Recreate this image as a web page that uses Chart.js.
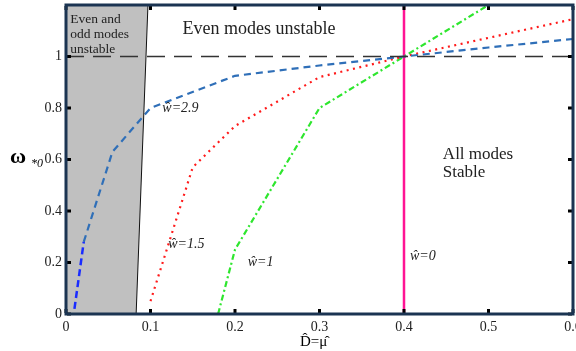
<!DOCTYPE html>
<html>
<head>
<meta charset="utf-8">
<script src="https://cdn.jsdelivr.net/npm/chart.js@4/dist/chart.umd.min.js"></script>
<style>
  html, body { margin: 0; padding: 0; background: #fff; }
  #wrap { width: 576px; height: 351px; }
</style>
</head>
<body>
<div id="wrap"><canvas id="chart"></canvas></div>
<script>
// w = 2.9 (blue dashed), first piece drawn brighter blue
const blueLowX = [0.01, 0.021];
const blueLowY = [0.02, 0.28];
const blueX = [0.021, 0.055, 0.1, 0.2, 0.3, 0.4, 0.5, 0.6];
const blueY = [0.28, 0.63, 0.8, 0.925, 0.965, 1.0, 1.035, 1.068];
// w = 1.5 (red dotted)
const redX = [0.1, 0.15, 0.2, 0.3, 0.4, 0.6];
const redY = [0.05, 0.57, 0.73, 0.92, 1.0, 1.145];
// w = 1 (green dash-dot)
const greenX = [0.18, 0.2, 0.3, 0.4, 0.5];
const greenY = [0.0, 0.25, 0.8, 1.0, 1.2];
// w = 0 (vertical line)
const pinkX = [0.4, 0.4];
const pinkY = [0, 1.2];
// reference level omega = 1
const refX = [0, 0.6];
const refY = [1, 1];
// shaded region (even and odd modes unstable): left edge x=0, right edge below
const edgeX = [0.083, 0.097];
const edgeY = [0, 1.2];

const xTicks = [0, 0.1, 0.2, 0.3, 0.4, 0.5, 0.6];
const yTicks = [0, 0.2, 0.4, 0.6, 0.8, 1];

const pts = (xs, ys) => xs.map((x, i) => ({ x: x, y: ys[i] }));
const SERIF = '"Liberation Serif", "DejaVu Serif", serif';

const shade = {
    id: "shade",
    beforeDatasetsDraw(chart) {
        const ctx = chart.ctx;
        const xs = chart.scales.x, ys = chart.scales.y;
        ctx.save();
        ctx.fillStyle = "#c0c0c0";
        ctx.beginPath();
        ctx.moveTo(xs.getPixelForValue(0), ys.getPixelForValue(edgeY[0]));
        edgeX.forEach((x, i) => ctx.lineTo(xs.getPixelForValue(x), ys.getPixelForValue(edgeY[i])));
        ctx.lineTo(xs.getPixelForValue(0), ys.getPixelForValue(edgeY[edgeY.length - 1]));
        ctx.closePath();
        ctx.fill();
        ctx.restore();
    }
};

const notes = {
    id: "notes",
    afterDraw(chart) {
        const ctx = chart.ctx;
        const xs = chart.scales.x, ys = chart.scales.y;
        const a = chart.chartArea;
        const px = v => xs.getPixelForValue(v);
        const py = v => ys.getPixelForValue(v);

        // tick marks (inside, all four sides)
        ctx.save();
        ctx.fillStyle = "#000";
        xTicks.forEach(t => {
            ctx.fillRect(px(t) - 1.5, a.bottom - 5, 3, 4);
            ctx.fillRect(px(t) - 1.5, a.top + 1, 3, 4);
        });
        yTicks.forEach(t => {
            ctx.fillRect(a.left + 1, py(t) - 1.5, 4, 3);
            ctx.fillRect(a.right - 5, py(t) - 1.5, 4, 3);
        });

        // frame
        ctx.strokeStyle = "#1b3452";
        ctx.lineWidth = 3;
        ctx.strokeRect(a.left, a.top, a.right - a.left, a.bottom - a.top);

        // text
        ctx.fillStyle = "#222";
        ctx.textBaseline = "alphabetic";
        ctx.textAlign = "left";
        ctx.font = "13.5px " + SERIF;
        ctx.fillText("Even and", px(0.005), py(1.13));
        ctx.fillText("odd modes", px(0.005), py(1.072));
        ctx.fillText("unstable", px(0.005), py(1.014));

        ctx.font = "18px " + SERIF;
        ctx.fillText("Even modes unstable", px(0.138), py(1.086));
        ctx.font = "17px " + SERIF;
        ctx.fillText("All modes", px(0.446), py(0.603));
        ctx.fillText("Stable", px(0.446), py(0.533));

        ctx.font = "italic 14px " + SERIF;
        ctx.fillText("\u0175=2.9", px(0.114), py(0.786));
        ctx.fillText("\u0175=1.5", px(0.121), py(0.257));
        ctx.fillText("\u0175=1", px(0.215), py(0.187));
        ctx.fillText("\u0175=0", px(0.407), py(0.21));

        // axis titles
        ctx.fillStyle = "#000";
        ctx.font = "bold 22px " + SERIF;
        ctx.fillText("\u03c9", 10, 163);
        ctx.font = "italic 12px " + SERIF;
        ctx.fillText("*0", 31, 167);
        ctx.font = "15px " + SERIF;
        ctx.textAlign = "center";
        ctx.fillText("D\u0302=\u03bc\u0302", px(0.293), 346);
        ctx.restore();
    }
};

const fmt = v => String(+Number(v).toFixed(1));

new Chart(document.getElementById("chart"), {
    type: "scatter",
    data: {
        datasets: [
            {
                data: pts(edgeX, edgeY), showLine: true, borderColor: "#111",
                borderWidth: 1, pointRadius: 0,
            },
            {
                data: pts(refX, refY), showLine: true, borderColor: "#333",
                borderWidth: 1.3, borderDash: [18, 9], pointRadius: 0,
            },
            {
                data: pts(blueLowX, blueLowY), showLine: true, borderColor: "#1a2cff",
                borderWidth: 2.5, borderDash: [7, 4], pointRadius: 0,
            },
            {
                data: pts(blueX, blueY), showLine: true, borderColor: "#2f6fb8",
                borderWidth: 2.2, borderDash: [7, 5], pointRadius: 0,
            },
            {
                data: pts(redX, redY), showLine: true, borderColor: "#ff1a1a",
                borderWidth: 2.2, borderDash: [2, 4.5], pointRadius: 0,
            },
            {
                data: pts(greenX, greenY), showLine: true, borderColor: "#2ee62e",
                borderWidth: 2.2, borderDash: [6, 3, 2, 3], pointRadius: 0,
            },
            {
                data: pts(pinkX, pinkY), showLine: true, borderColor: "#ff1493",
                borderWidth: 2.5, pointRadius: 0,
            },
        ],
    },
    options: {
        responsive: true,
        maintainAspectRatio: false,
        animation: false,
        layout: { padding: { left: 0, right: 3, top: 5, bottom: 0 } },
        plugins: { legend: { display: false }, tooltip: { enabled: false } },
        scales: {
            x: {
                type: "linear", min: 0, max: 0.6,
                grid: { display: false }, border: { display: false },
                afterBuildTicks: s => { s.ticks = xTicks.map(v => ({ value: v })); },
                ticks: { color: "#222", font: { family: SERIF, size: 14 }, padding: -3, maxRotation: 0, callback: fmt },
                afterFit: s => { s.height = 37; s.paddingLeft = 0; s.paddingRight = 0; },
            },
            y: {
                type: "linear", min: 0, max: 1.2,
                grid: { display: false }, border: { display: false },
                afterBuildTicks: s => { s.ticks = yTicks.map(v => ({ value: v })); },
                ticks: { color: "#222", font: { family: SERIF, size: 14 }, padding: -4, callback: fmt },
                afterFit: s => { s.width = 66; s.paddingTop = 0; s.paddingBottom = 0; },
            },
        },
    },
    plugins: [shade, notes],
});
</script>
</body>
</html>
